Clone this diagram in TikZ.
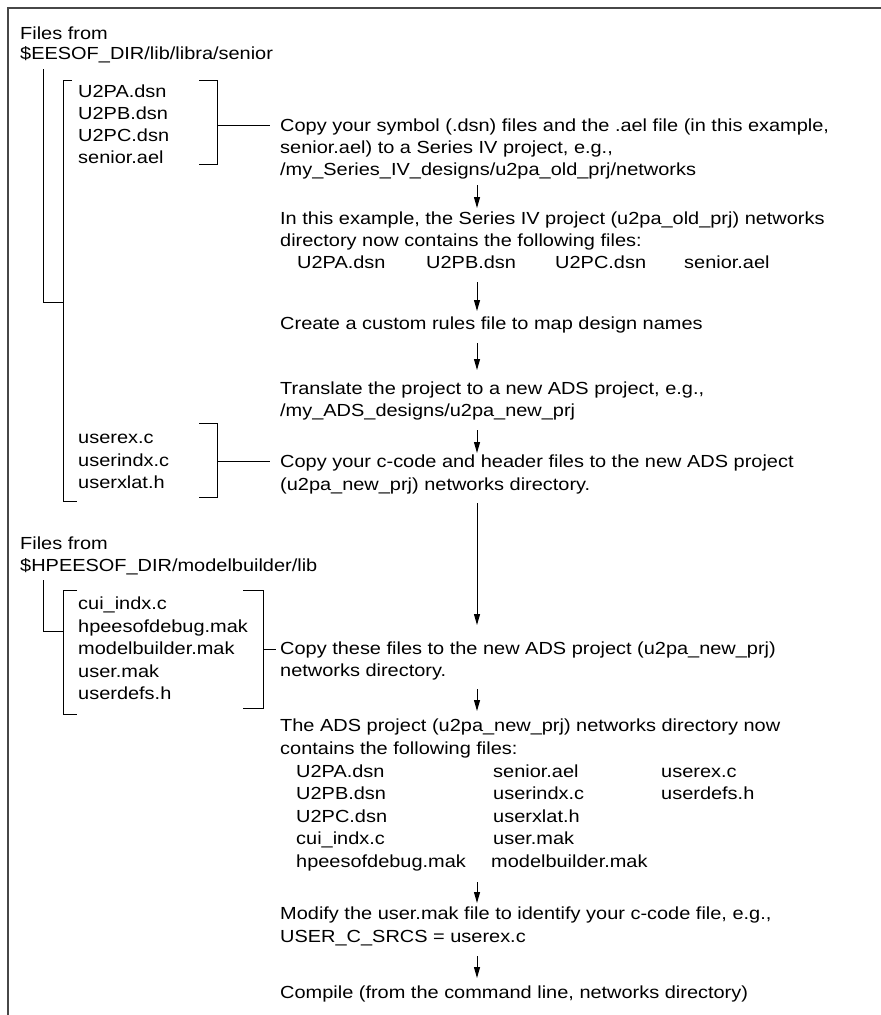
\documentclass[tikz,border=0pt]{standalone}
\usepackage{fontspec}
\usetikzlibrary{arrows.meta}
\newfontfamily\rfont[FakeStretch=1.14]{Liberation Sans}
\begin{document}
\begin{tikzpicture}[x=1pt,y=-1pt,
  txt/.style={anchor=base west,inner sep=0pt,font=\rfont\fontsize{17.5pt}{22pt}\selectfont},
  ln/.style={line width=1pt,black},
  arr/.style={line width=1pt,black,-{Triangle[width=6pt,length=11pt]}},
  frm/.style={line width=2pt,black!72}]
\useasboundingbox (0,0) rectangle (881,1015);
% frame
\draw[frm] (8,1015) -- (8,8) -- (881,8);
% ---------- group 1 source ----------
\node[txt] (f1a) at (20,39) {Files from};
\node[txt] (f1b) at (20,59) {\$EESOF\_DIR/lib/libra/senior};
\draw[ln] (43,69) -- (43,302) -- (63,302);
\draw[ln] (72,80) -- (63,80) -- (63,501) -- (77,501);
\node[txt] (g1a) at (78,97) {U2PA.dsn};
\node[txt] (g1b) at (78,119) {U2PB.dsn};
\node[txt] (g1c) at (78,141) {U2PC.dsn};
\node[txt] (g1d) at (78,163) {senior.ael};
\draw[ln] (199,80) -- (217,80) -- (217,164) -- (199,164);
\draw[ln] (217,125) -- (270,125);
\node[txt] (d1a) at (280,131) {Copy your symbol (.dsn) files and the .ael file (in this example,};
\node[txt] (d1b) at (280,153) {senior.ael) to a Series IV project, e.g.,};
\node[txt] (d1c) at (280,175) {/my\_Series\_IV\_designs/u2pa\_old\_prj/networks};
\coordinate (a1s) at (477,185); \coordinate (a1e) at (477,208);
\draw[arr] (a1s) -- (a1e);
\node[txt] (d2a) at (280,224) {In this example, the Series IV project (u2pa\_old\_prj) networks};
\node[txt] (d2b) at (280,246) {directory now contains the following files:};
\node[txt] (r0a) at (297,268) {U2PA.dsn};
\node[txt] (r0b) at (426,268) {U2PB.dsn};
\node[txt] (r0c) at (555,268) {U2PC.dsn};
\node[txt] (r0d) at (684,268) {senior.ael};
\coordinate (a2s) at (477,282); \coordinate (a2e) at (477,311);
\draw[arr] (a2s) -- (a2e);
\node[txt] (d3) at (280,329) {Create a custom rules file to map design names};
\coordinate (a3s) at (477,343); \coordinate (a3e) at (477,370);
\draw[arr] (a3s) -- (a3e);
\node[txt] (d4a) at (280,394) {Translate the project to a new ADS project, e.g.,};
\node[txt] (d4b) at (280,416) {/my\_ADS\_designs/u2pa\_new\_prj};
\coordinate (a4s) at (477,430); \coordinate (a4e) at (477,453);
\draw[arr] (a4s) -- (a4e);
% ---------- group 2 ----------
\node[txt] (g2a) at (78,443) {userex.c};
\node[txt] (g2b) at (78,466) {userindx.c};
\node[txt] (g2c) at (78,488) {userxlat.h};
\draw[ln] (199,423) -- (217,423) -- (217,497) -- (199,497);
\draw[ln] (217,461) -- (270,461);
\node[txt] (d5a) at (280,467) {Copy your c-code and header files to the new ADS project};
\node[txt] (d5b) at (280,490) {(u2pa\_new\_prj) networks directory.};
\coordinate (a5s) at (477,503); \coordinate (a5e) at (477,625);
\draw[arr] (a5s) -- (a5e);
% ---------- group 3 ----------
\node[txt] (f2a) at (20,549) {Files from};
\node[txt] (f2b) at (20,571) {\$HPEESOF\_DIR/modelbuilder/lib};
\draw[ln] (43,580) -- (43,631) -- (63,631);
\draw[ln] (77,590) -- (63,590) -- (63,714) -- (77,714);
\node[txt] (g3a) at (78,609) {cui\_indx.c};
\node[txt] (g3b) at (78,632) {hpeesofdebug.mak};
\node[txt] (g3c) at (78,654) {modelbuilder.mak};
\node[txt] (g3d) at (78,677) {user.mak};
\node[txt] (g3e) at (78,699) {userdefs.h};
\draw[ln] (243,590) -- (263,590) -- (263,708) -- (243,708);
\draw[ln] (263,649) -- (276,649);
\node[txt] (d6a) at (280,654) {Copy these files to the new ADS project (u2pa\_new\_prj)};
\node[txt] (d6b) at (280,676) {networks directory.};
\coordinate (a6s) at (477,689); \coordinate (a6e) at (477,711);
\draw[arr] (a6s) -- (a6e);
\node[txt] (d7a) at (280,731) {The ADS project (u2pa\_new\_prj) networks directory now};
\node[txt] (d7b) at (280,754) {contains the following files:};
\node[txt] (r1a) at (296,777) {U2PA.dsn};
\node[txt] (r1b) at (493,777) {senior.ael};
\node[txt] (r1c) at (661,777) {userex.c};
\node[txt] (r2a) at (296,799) {U2PB.dsn};
\node[txt] (r2b) at (493,799) {userindx.c};
\node[txt] (r2c) at (661,799) {userdefs.h};
\node[txt] (r3a) at (296,822) {U2PC.dsn};
\node[txt] (r3b) at (493,822) {userxlat.h};
\node[txt] (r4a) at (296,844) {cui\_indx.c};
\node[txt] (r4b) at (493,844) {user.mak};
\node[txt] (r5a) at (296,867) {hpeesofdebug.mak};
\node[txt] (r5b) at (491,867) {modelbuilder.mak};
\coordinate (a7s) at (477,882); \coordinate (a7e) at (477,903);
\draw[arr] (a7s) -- (a7e);
\node[txt] (d8a) at (280,919) {Modify the user.mak file to identify your c-code file, e.g.,};
\node[txt] (d8b) at (280,942) {USER\_C\_SRCS = userex.c};
\coordinate (a8s) at (477,956); \coordinate (a8e) at (477,978);
\draw[arr] (a8s) -- (a8e);
\node[txt] (d9) at (280,998) {Compile (from the command line, networks directory)};
\end{tikzpicture}
\end{document}
